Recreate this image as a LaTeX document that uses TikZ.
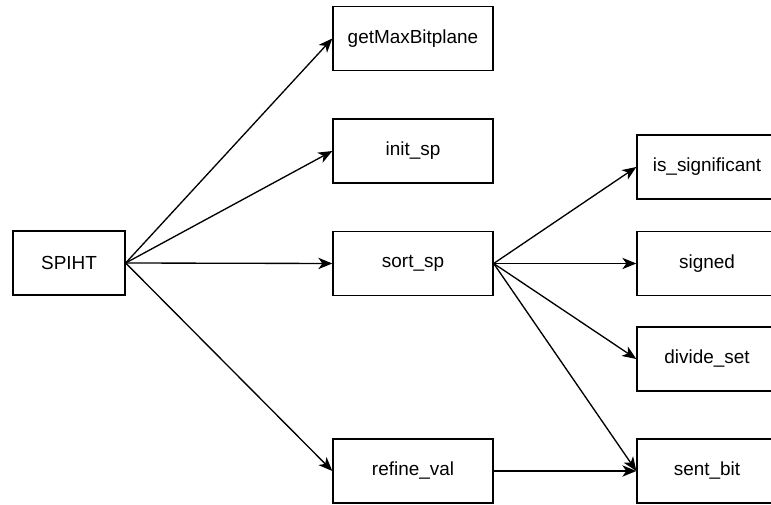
\documentclass[tikz,border=0pt]{standalone}
\usepackage{fontspec}
\setmainfont{Liberation Sans}
\usetikzlibrary{positioning}
\usetikzlibrary{arrows.meta}

\begin{document}
\begin{tikzpicture}[x=0.75pt, y=-0.75pt,
		block/.style={draw, line width=1pt, minimum width=120pt, minimum height=48pt,
			inner sep=0pt, font=\fontsize{14.2}{16}\selectfont},
		mainblock/.style={block, minimum width=84pt},
		leafblock/.style={block, minimum width=105pt},
		call/.style={-{Stealth[length=10.5pt, width=8.5pt, inset=3pt]}, line width=1pt}
	]
		
		\useasboundingbox (0,0) rectangle (771,505);
		\clip (0,0) rectangle (771,505);
		
		\node[mainblock] (spiht) at (69,263) {SPIHT};
		
		\node[block] (getmax) at (413,38.5) {getMaxBitplane};
		\node[block] (init) at (413,151) {init\_sp};
		\node[block] (sort) at (413,263.5) {sort\_sp};
		\node[block] (refine) at (413,471) {refine\_val};
		
		\node[leafblock] (issig) at (707,167) {is\_significant};
		\node[leafblock] (signed) at (707,263.5) {signed};
		\node[leafblock] (divide) at (707,359) {divide\_set};
		\node[leafblock] (sent) at (707,471) {sent\_bit};
		
		\draw[call] (spiht.east) -- (getmax.west);
		\draw[call] (spiht.east) -- (init.west);
		\draw[call] (spiht.east) -- (sort.west);
		\draw[call] (spiht.east) -- (refine.west);
		
		\draw[call] (sort.east) -- (issig.west);
		\draw[call] (sort.east) -- (signed.west);
		\draw[call] (sort.east) -- (divide.west);
		\draw[call] (sort.east) -- (sent.west);
		\draw[call] (refine.east) -- (sent.west);
	\end{tikzpicture}
\end{document}
